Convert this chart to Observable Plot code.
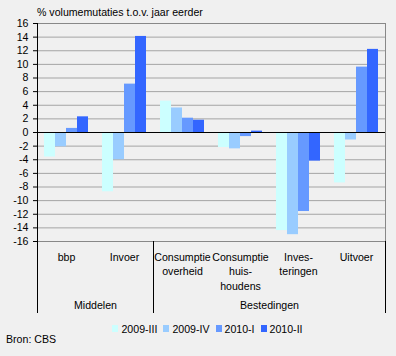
<!DOCTYPE html>
<html><head><meta charset="utf-8">
<script src="https://cdn.jsdelivr.net/npm/d3@7"></script>
<script src="https://cdn.jsdelivr.net/npm/@observablehq/plot@0.6"></script>
<style>
html,body{margin:0;padding:0;background:#f0f0f0;}
#wrap{position:relative;width:396px;height:356px;background:#f0f0f0;font-family:"Liberation Sans",Arial,sans-serif;font-size:10.6px;color:#000;overflow:hidden}
#title{position:absolute;left:37px;top:6px;line-height:13px;white-space:nowrap}
#chart{position:absolute;left:0;top:0}
#legend{position:absolute;left:34px;top:312px;width:353px}
#source{position:absolute;left:6px;top:333px;line-height:13px;white-space:nowrap}
.lg-swatches{font-family:"Liberation Sans",Arial,sans-serif !important;font-size:10.6px !important;margin:0 !important;color:#000}
.lg-swatches-wrap{justify-content:center;min-height:33px !important}
.lg-swatches-wrap .lg-swatch{margin-right:6px !important}
.lg-swatch > svg{margin-right:3px !important}
</style>
</head><body>
<div id="wrap">
  <div id="title"></div>
  <div id="chart"></div>
  <div id="legend"></div>
  <div id="source"></div>
</div>
<script>
const titleText = "% volumemutaties t.o.v. jaar eerder";
const sourceText = "Bron: CBS";
const categories = ["bbp", "Invoer", "Consumptie\noverheid", "Consumptie\nhuis-\nhoudens", "Inves-\nteringen", "Uitvoer"];
const series = ["2009-III", "2009-IV", "2010-I", "2010-II"];
const colors = ["#ccffff", "#99ccff", "#6699ff", "#3366ff"];
const v2009III = [-3.6, -8.7, 4.6, -2.2, -14.4, -7.4];
const v2009IV  = [-2.1, -4.0, 3.6, -2.4, -15.0, -1.1];
const v2010I   = [0.6, 7.1, 2.1, -0.6, -11.6, 9.6];
const v2010II  = [2.3, 14.1, 1.8, 0.2, -4.2, 12.2];
const yTicks = [-16, -14, -12, -10, -8, -6, -4, -2, 0, 2, 4, 6, 8, 10, 12, 14, 16];
const groupNames = ["Middelen", "Bestedingen"];
const groupFirst = [0, 2];   // index of first category in group
const groupLast = [1, 5];    // index of last category in group

const seriesValues = [v2009III, v2009IV, v2010I, v2010II];
const data = [];
categories.forEach((c, i) => series.forEach((s, j) => data.push({category: c, series: s, value: seriesValues[j][i]})));

const font = '"Liberation Sans", Arial, sans-serif';
const lastCat = categories[categories.length - 1];

const chart = Plot.plot({
  width: 396, height: 318,
  marginTop: 23, marginBottom: 77, marginLeft: 34, marginRight: 9,
  style: {fontFamily: font, fontSize: "10.6px", background: "transparent", overflow: "visible", color: "#000"},
  fx: {domain: categories, paddingInner: 0, paddingOuter: 0, axis: null, label: null},
  x: {domain: series, paddingInner: 0, paddingOuter: 0.42, axis: null},
  y: {domain: [-16, 16], axis: null},
  color: {domain: series, range: colors},
  marks: [
    Plot.gridY(yTicks, {stroke: "#a4a4a4", strokeOpacity: 1}),
    Plot.ruleY([16, -16], {stroke: "#888888"}),
    Plot.barY(data, {fx: "category", x: "series", y: "value", fill: "series"}),
    Plot.ruleY([0], {stroke: "#000"}),
    // group separators: left edge of each group's first category, extended below the plot
    Plot.frame({anchor: "left", stroke: "#000", fx: () => categories[groupFirst[0]], insetBottom: -71}),
    Plot.frame({anchor: "left", stroke: "#000", fx: () => categories[groupFirst[1]], insetTop: 218, insetBottom: -71}),
    Plot.frame({anchor: "right", stroke: "#888888", fx: () => lastCat}),
    Plot.frame({anchor: "right", stroke: "#000", fx: () => lastCat, insetTop: 218, insetBottom: -71}),
    Plot.axisY({ticks: yTicks, tickSize: 4, tickPadding: 5, tickFormat: d => String(d), label: null}),
    Plot.axisFx({anchor: "bottom", tickSize: 0, tickPadding: 9, lineHeight: 1.37, label: null}),
    Plot.text(groupNames, {
      fx: (d, i) => categories[Math.ceil((groupFirst[i] + groupLast[i] + 1) / 2)],
      frameAnchor: "bottom-left", textAnchor: "middle", lineAnchor: "middle", dy: 64, text: d => d
    })
  ]
});
document.getElementById("chart").appendChild(chart);

const legend = Plot.legend({
  color: {domain: series, range: colors},
  className: "lg", swatchWidth: 6, swatchHeight: 7,
  style: {fontFamily: font, fontSize: "10.6px"}
});
document.getElementById("legend").appendChild(legend);
document.getElementById("title").textContent = titleText;
document.getElementById("source").textContent = sourceText;
</script>
</body></html>
